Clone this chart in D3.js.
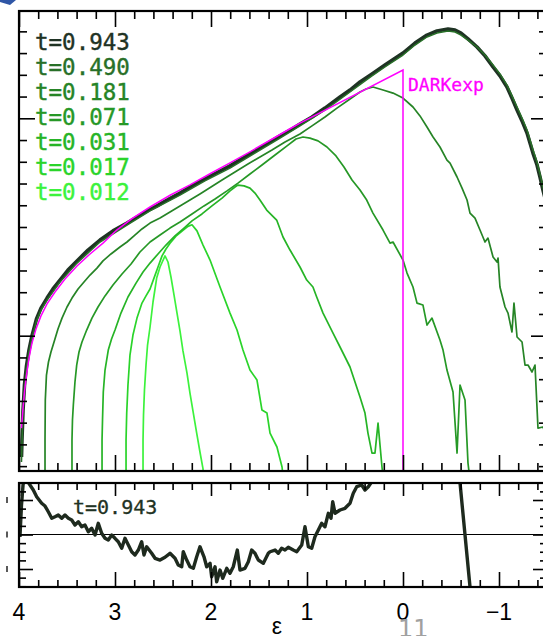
<!DOCTYPE html>
<html>
<head>
<meta charset="utf-8">
<script src="https://cdn.jsdelivr.net/npm/d3@7"></script>
<style>
  body { margin: 0; background: #fff; }
  svg { display: block; }
</style>
</head>
<body>
<svg id="chart" width="543" height="636"></svg>
<script>
// ---------------------------------------------------------------
// Energy distribution N(eps) of the relaxing system at several times,
// with the DARKexp model and the residual of the final snapshot.
// Each series is a list of [eps, log N] pairs; residuals are [eps, dlogN].
// ---------------------------------------------------------------
const epsTickLabels = [4, 3, 2, 1, 0, -1];
const snapLabels = ["t=0.943", "t=0.490", "t=0.181", "t=0.071", "t=0.031", "t=0.017", "t=0.012"];
const snapColors = ["#1f3324", "#287028", "#268426", "#269826", "#26b426", "#2ad42a", "#3cf23c"];

const n_t0943 = [[3.974,0.442],[3.969,0.520],[3.958,0.658],[3.943,0.773],[3.922,0.861],[3.896,0.934],[3.865,0.999],[3.818,1.077],[3.771,1.127],[3.708,1.173],[3.646,1.215],[3.573,1.256],[3.490,1.302],[3.396,1.344],[3.281,1.394],[3.156,1.440],[3.021,1.482],[2.875,1.518],[2.771,1.546],[2.667,1.574],[2.563,1.597],[2.458,1.624],[2.323,1.656],[2.198,1.689],[2.063,1.721],[1.927,1.753],[1.802,1.781],[1.667,1.817],[1.542,1.850],[1.406,1.886],[1.281,1.919],[1.156,1.951],[1.073,1.974],[0.948,2.006],[0.813,2.047],[0.656,2.098],[0.552,2.130],[0.448,2.167],[0.323,2.204],[0.188,2.245],[0.000,2.300],[-0.125,2.346],[-0.250,2.383],[-0.354,2.402],[-0.469,2.411],[-0.542,2.406],[-0.604,2.392],[-0.677,2.365],[-0.771,2.328],[-0.854,2.287],[-0.938,2.236],[-1.010,2.195],[-1.083,2.144],[-1.135,2.093],[-1.188,2.038],[-1.240,1.988],[-1.292,1.932],[-1.323,1.886],[-1.354,1.840],[-1.396,1.785],[-1.427,1.730],[-1.458,1.670],[-1.510,1.578]];

const n_t0490 = [[3.974,0.419],[3.969,0.497],[3.958,0.649],[3.943,0.759],[3.922,0.847],[3.896,0.925],[3.865,0.989],[3.818,1.068],[3.771,1.118],[3.708,1.164],[3.573,1.247],[3.396,1.334],[3.156,1.431],[2.875,1.509],[2.635,1.574],[2.323,1.647],[2.063,1.712],[1.802,1.771],[1.542,1.840],[1.281,1.909],[1.073,1.965],[0.813,2.038],[0.552,2.121],[0.323,2.195],[0.188,2.236],[0.000,2.291],[-0.125,2.337],[-0.250,2.374],[-0.354,2.392],[-0.469,2.402],[-0.542,2.397],[-0.604,2.383],[-0.677,2.360],[-0.771,2.328],[-0.854,2.291],[-0.938,2.245],[-1.010,2.204],[-1.083,2.153],[-1.135,2.103],[-1.188,2.052],[-1.240,2.001],[-1.292,1.946],[-1.323,1.900],[-1.354,1.854],[-1.396,1.799],[-1.427,1.744],[-1.458,1.684],[-1.510,1.592]];

const n_t0181 = [[3.729,0.336],[3.729,0.520],[3.726,0.704],[3.714,0.819],[3.693,0.879],[3.667,0.925],[3.635,0.971],[3.594,1.031],[3.552,1.081],[3.500,1.132],[3.448,1.173],[3.385,1.215],[3.323,1.247],[3.260,1.279],[3.188,1.311],[3.125,1.344],[3.042,1.376],[2.948,1.408],[2.875,1.431],[2.802,1.459],[2.719,1.491],[2.635,1.518],[2.531,1.541],[2.427,1.569],[2.323,1.597],[2.219,1.624],[2.115,1.652],[2.000,1.684],[1.885,1.716],[1.750,1.753],[1.615,1.790],[1.490,1.822],[1.365,1.854],[1.229,1.891],[1.073,1.928],[0.948,1.965],[0.813,2.006],[0.688,2.047],[0.552,2.089],[0.448,2.121],[0.385,2.135],[0.313,2.144],[0.208,2.130],[0.104,2.116],[0.000,2.093],[-0.104,2.052],[-0.177,2.011],[-0.250,1.960],[-0.313,1.914],[-0.385,1.868],[-0.458,1.808],[-0.490,1.794],[-0.563,1.730],[-0.615,1.679],[-0.667,1.624],[-0.698,1.564],[-0.750,1.541],[-0.802,1.486],[-0.854,1.431],[-0.885,1.449],[-0.938,1.362],[-0.979,1.339],[-0.990,1.357],[-1.010,1.224],[-1.063,1.132],[-1.094,1.104],[-1.135,1.017],[-1.156,1.150],[-1.188,0.994],[-1.240,0.971],[-1.271,0.865],[-1.302,0.865],[-1.344,0.833],[-1.375,0.865],[-1.406,0.575],[-1.458,0.580],[-1.510,0.520]];

const n_t0071 = [[3.448,0.336],[3.448,0.520],[3.443,0.612],[3.434,0.681],[3.417,0.787],[3.399,0.865],[3.375,0.925],[3.344,0.971],[3.295,1.026],[3.240,1.081],[3.177,1.132],[3.104,1.183],[3.021,1.233],[2.927,1.284],[2.833,1.330],[2.740,1.385],[2.635,1.431],[2.531,1.463],[2.427,1.495],[2.323,1.523],[2.198,1.560],[2.073,1.597],[1.958,1.629],[1.833,1.666],[1.719,1.702],[1.594,1.744],[1.469,1.785],[1.333,1.831],[1.208,1.873],[1.115,1.905],[1.042,1.914],[0.969,1.909],[0.885,1.896],[0.792,1.868],[0.698,1.827],[0.615,1.776],[0.531,1.716],[0.448,1.670],[0.378,1.624],[0.313,1.564],[0.208,1.486],[0.135,1.426],[0.104,1.431],[0.000,1.348],[-0.042,1.288],[-0.104,1.224],[-0.146,1.150],[-0.208,1.141],[-0.250,1.049],[-0.302,1.081],[-0.385,0.980],[-0.417,0.934],[-0.458,0.842],[-0.521,0.741],[-0.563,0.460],[-0.594,0.773],[-0.646,0.704],[-0.677,0.414],[-0.698,0.336]];

const n_t0031 = [[3.135,0.336],[3.135,0.520],[3.130,0.612],[3.122,0.741],[3.104,0.842],[3.070,0.934],[3.036,0.985],[3.000,1.026],[2.938,1.104],[2.865,1.178],[2.781,1.242],[2.708,1.293],[2.635,1.334],[2.552,1.376],[2.469,1.417],[2.375,1.459],[2.281,1.495],[2.198,1.528],[2.094,1.560],[1.990,1.597],[1.885,1.633],[1.802,1.666],[1.750,1.684],[1.719,1.693],[1.656,1.689],[1.594,1.679],[1.542,1.656],[1.490,1.624],[1.420,1.578],[1.316,1.532],[1.250,1.454],[1.177,1.394],[1.073,1.316],[1.003,1.256],[0.938,1.224],[0.899,1.178],[0.833,1.104],[0.729,1.012],[0.656,0.948],[0.552,0.856],[0.448,0.718],[0.396,0.644],[0.365,0.552],[0.323,0.460],[0.292,0.460],[0.260,0.598],[0.219,0.396],[0.203,0.336]];

const n_t0017 = [[2.885,0.336],[2.885,0.520],[2.878,0.644],[2.865,0.773],[2.844,0.911],[2.813,1.003],[2.771,1.081],[2.719,1.150],[2.677,1.183],[2.635,1.215],[2.594,1.265],[2.552,1.316],[2.510,1.367],[2.469,1.399],[2.427,1.425],[2.365,1.458],[2.292,1.485],[2.240,1.503],[2.198,1.510],[2.146,1.482],[2.083,1.417],[2.010,1.348],[1.906,1.224],[1.802,1.104],[1.729,1.026],[1.667,0.934],[1.594,0.842],[1.521,0.796],[1.469,0.658],[1.417,0.644],[1.385,0.552],[1.313,0.488],[1.260,0.396],[1.245,0.336]];

const n_t0012 = [[2.708,0.336],[2.708,0.520],[2.703,0.635],[2.693,0.750],[2.677,0.865],[2.661,0.957],[2.635,1.040],[2.604,1.155],[2.566,1.265],[2.531,1.316],[2.479,1.367],[2.448,1.339],[2.417,1.270],[2.385,1.187],[2.354,1.104],[2.323,1.022],[2.292,0.930],[2.250,0.828],[2.219,0.736],[2.188,0.654],[2.149,0.552],[2.115,0.465],[2.083,0.387],[2.078,0.336]];

// DARKexp model: rises with the envelope, then truncates at eps = 0
const n_darkexp = [[3.974,0.575],[3.958,0.667],[3.943,0.741],[3.922,0.819],[3.896,0.897],[3.865,0.966],[3.823,1.031],[3.771,1.091],[3.708,1.146],[3.625,1.201],[3.521,1.261],[3.396,1.321],[3.260,1.376],[3.125,1.426],[2.979,1.487],[2.823,1.538],[2.635,1.592],[2.427,1.646],[2.219,1.694],[2.010,1.745],[1.802,1.795],[1.594,1.846],[1.385,1.899],[1.177,1.952],[1.073,1.978],[0.000,2.222],[0.000,0.000]];

// residual of the t=0.943 snapshot relative to DARKexp
const resid_t0943 = [[3.990,-0.014],[3.974,0.171],[3.958,0.287],[3.938,0.339],[3.906,0.304],[3.851,0.258],[3.816,0.219],[3.764,0.181],[3.729,0.165],[3.695,0.132],[3.659,0.094],[3.625,0.103],[3.591,0.113],[3.555,0.094],[3.521,0.113],[3.486,0.094],[3.451,0.084],[3.417,0.055],[3.382,0.074],[3.347,0.045],[3.313,0.055],[3.278,0.016],[3.243,0.036],[3.208,-0.003],[3.174,0.065],[3.139,0.007],[3.104,-0.022],[3.070,-0.032],[3.034,-0.003],[3.000,-0.022],[2.966,-0.042],[2.930,-0.080],[2.896,-0.022],[2.861,-0.061],[2.826,-0.100],[2.792,-0.119],[2.757,-0.090],[2.722,-0.042],[2.698,-0.119],[2.670,-0.071],[2.618,-0.109],[2.583,-0.138],[2.531,-0.148],[2.479,-0.132],[2.427,-0.109],[2.375,-0.138],[2.341,-0.177],[2.305,-0.187],[2.289,-0.100],[2.253,-0.148],[2.219,-0.187],[2.184,-0.196],[2.149,-0.129],[2.115,-0.071],[2.073,-0.129],[2.045,-0.187],[2.010,-0.167],[1.993,-0.245],[1.958,-0.187],[1.941,-0.274],[1.906,-0.206],[1.878,-0.254],[1.836,-0.196],[1.802,-0.225],[1.768,-0.187],[1.726,-0.090],[1.698,-0.206],[1.646,-0.196],[1.611,-0.158],[1.576,-0.090],[1.542,-0.109],[1.507,-0.148],[1.455,-0.167],[1.403,-0.109],[1.385,-0.100],[1.333,-0.090],[1.299,-0.109],[1.264,-0.080],[1.229,-0.090],[1.195,-0.074],[1.143,-0.090],[1.107,-0.100],[1.055,-0.061],[1.021,0.045],[0.986,-0.071],[0.951,-0.080],[0.917,-0.013],[0.882,0.026],[0.847,0.065],[0.813,0.045],[0.778,0.123],[0.750,0.094],[0.732,0.190],[0.708,0.123],[0.656,0.142],[0.604,0.152],[0.552,0.181],[0.518,0.239],[0.482,0.277],[0.430,0.287],[0.396,0.258],[0.361,0.277],[0.326,0.306],[0.281,0.374],[0.031,0.548],[-0.385,0.606],[-0.542,0.432],[-0.594,0.299],[-0.698,-0.304],[-0.729,-0.438]];

// ---------------------------------------------------------------
const svg = d3.select("#chart");

const panelTop = { x0: 19, x1: 547, y0: 11, y1: 471 };
const panelBot = { x0: 19, x1: 547, y0: 483, y1: 587 };

const x = d3.scaleLinear().domain([4, -1.5]).range([panelTop.x0, panelTop.x1]);
const yTop = d3.scaleLinear().domain([0.3776, 2.4936]).range([panelTop.y1, panelTop.y0]);
const yBot = d3.scaleLinear().domain([-0.3043, 0.2986]).range([panelBot.y1, panelBot.y0]);

const defs = svg.append("defs");
defs.append("clipPath").attr("id", "clipTop").append("rect")
  .attr("x", panelTop.x0).attr("y", panelTop.y0)
  .attr("width", panelTop.x1 - panelTop.x0).attr("height", panelTop.y1 - panelTop.y0);
defs.append("clipPath").attr("id", "clipBot").append("rect")
  .attr("x", panelBot.x0).attr("y", panelBot.y0)
  .attr("width", panelBot.x1 - panelBot.x0).attr("height", panelBot.y1 - panelBot.y0);

// page decoration in the corner
svg.append("polygon").attr("points", "0,0 16,0 10,5 0,2").attr("fill", "#2f56a6");

// ---------- upper panel: curves ----------
const lineTop = d3.line().x(d => x(d[0])).y(d => yTop(d[1]));
const gTop = svg.append("g").attr("clip-path", "url(#clipTop)");

const greenSeries = [n_t0012, n_t0017, n_t0031, n_t0071, n_t0181];
const greenColors = [snapColors[6], snapColors[5], snapColors[4], snapColors[3], snapColors[2]];
greenSeries.forEach((s, i) => {
  gTop.append("path").attr("d", lineTop(s))
    .attr("fill", "none").attr("stroke", greenColors[i])
    .attr("stroke-width", 1.7).attr("stroke-linejoin", "round");
});
gTop.append("path").attr("d", lineTop(n_t0943))
  .attr("fill", "none").attr("stroke", snapColors[0])
  .attr("stroke-width", 3.6).attr("stroke-linejoin", "round");
gTop.append("path").attr("d", lineTop(n_t0490))
  .attr("fill", "none").attr("stroke", snapColors[1])
  .attr("stroke-width", 1.5).attr("stroke-linejoin", "round");
gTop.append("path").attr("d", lineTop(n_darkexp))
  .attr("fill", "none").attr("stroke", "#ff00ff")
  .attr("stroke-width", 1.5).attr("stroke-linejoin", "miter");

// ---------- lower panel: residual ----------
const lineBot = d3.line().x(d => x(d[0])).y(d => yBot(d[1]));
const gBot = svg.append("g").attr("clip-path", "url(#clipBot)");
gBot.append("line")
  .attr("x1", panelBot.x0).attr("x2", panelBot.x1)
  .attr("y1", yBot(0)).attr("y2", yBot(0))
  .attr("stroke", "#000").attr("stroke-width", 1);
gBot.append("path").attr("d", lineBot(resid_t0943))
  .attr("fill", "none").attr("stroke", "#1e2a1e")
  .attr("stroke-width", 3.4).attr("stroke-linejoin", "round");

// ---------- ticks ----------
const xMinor = d3.range(-7, 21).map(i => +(i * 0.2).toFixed(1)).filter(v => !Number.isInteger(v));
const xMajor = [-1, 0, 1, 2, 3, 4];
const yTopMinor = d3.range(4, 25).map(i => i / 10).filter(v => v !== 1 && v !== 2);
const yTopMajor = [1, 2];
const yBotMinor = d3.range(-6, 6).map(i => +(i * 0.05).toFixed(2)).filter(v => ![-0.2, 0, 0.2].includes(v));
const yBotMajor = [-0.2, 0, 0.2];

function ticks(axisFn, scale, values, size, tx, ty) {
  const g = svg.append("g").attr("transform", `translate(${tx},${ty})`)
    .call(axisFn(scale).tickValues(values).tickSize(-size).tickFormat(""));
  g.select(".domain").remove();
  g.selectAll("line").attr("stroke", "#000").attr("stroke-width", 1.6);
}

// upper panel
ticks(d3.axisBottom, x, xMinor, 8, 0, panelTop.y1);
ticks(d3.axisBottom, x, xMajor, 16, 0, panelTop.y1);
ticks(d3.axisTop, x, xMinor, 8, 0, panelTop.y0);
ticks(d3.axisTop, x, xMajor, 16, 0, panelTop.y0);
ticks(d3.axisLeft, yTop, yTopMinor, 8, panelTop.x0, 0);
ticks(d3.axisLeft, yTop, yTopMajor, 16, panelTop.x0, 0);
ticks(d3.axisRight, yTop, yTopMinor, 8, panelTop.x1, 0);
ticks(d3.axisRight, yTop, yTopMajor, 16, panelTop.x1, 0);
// lower panel
ticks(d3.axisBottom, x, xMinor, 7, 0, panelBot.y1);
ticks(d3.axisBottom, x, xMajor, 15, 0, panelBot.y1);
ticks(d3.axisTop, x, xMinor, 7, 0, panelBot.y0);
ticks(d3.axisTop, x, xMajor, 13, 0, panelBot.y0);
ticks(d3.axisLeft, yBot, yBotMinor, 7, panelBot.x0, 0);
ticks(d3.axisLeft, yBot, yBotMajor, 14, panelBot.x0, 0);
ticks(d3.axisRight, yBot, yBotMinor, 7, panelBot.x1, 0);
ticks(d3.axisRight, yBot, yBotMajor, 14, panelBot.x1, 0);

// edges of the clipped residual-axis labels
svg.append("g").selectAll("line").data(yBotMajor).join("line")
  .attr("x1", 7).attr("x2", 7)
  .attr("y1", d => yBot(d) - 3).attr("y2", d => yBot(d) + 3)
  .attr("stroke", "#222").attr("stroke-width", 1.5);

// frames
[panelTop, panelBot].forEach(p => {
  svg.append("rect").attr("x", p.x0).attr("y", p.y0)
    .attr("width", p.x1 - p.x0).attr("height", p.y1 - p.y0)
    .attr("fill", "none").attr("stroke", "#000").attr("stroke-width", 2.2);
});

// ---------- text ----------
const fmt = d3.format("d");
svg.append("g").selectAll("text").data(epsTickLabels).join("text")
  .attr("x", d => x(d)).attr("y", 620)
  .attr("text-anchor", "middle")
  .attr("font-family", "'Liberation Sans', Arial, sans-serif")
  .attr("font-size", 23).attr("fill", "#000")
  .text(d => fmt(d));

svg.append("text").attr("x", 277).attr("y", 634)
  .attr("text-anchor", "middle")
  .attr("font-family", "'Liberation Sans', Arial, sans-serif")
  .attr("font-size", 23).attr("fill", "#000").text("ε");

svg.append("text").attr("x", 398).attr("y", 637)
  .attr("font-family", "'DejaVu Sans', sans-serif")
  .attr("font-size", 24).attr("fill", "#a0a0a0").text("11");

svg.append("g").selectAll("text").data(snapLabels).join("text")
  .attr("x", 35).attr("y", (d, i) => 50 + 25 * i)
  .attr("font-family", "'DejaVu Sans Mono', monospace")
  .attr("font-size", 22.5)
  .attr("fill", (d, i) => snapColors[i])
  .attr("stroke", (d, i) => snapColors[i]).attr("stroke-width", 0.4)
  .text(d => d);

svg.append("text").attr("x", 408).attr("y", 91)
  .attr("font-family", "'DejaVu Sans Mono', monospace")
  .attr("font-size", 18).attr("fill", "#ff00ff")
  .attr("stroke", "#ff00ff").attr("stroke-width", 0.3).text("DARKexp");

svg.append("text").attr("x", 73).attr("y", 514)
  .attr("font-family", "'DejaVu Sans Mono', monospace")
  .attr("font-size", 20).attr("fill", snapColors[0])
  .attr("stroke", snapColors[0]).attr("stroke-width", 0.3).text(snapLabels[0]);
</script>
</body>
</html>
